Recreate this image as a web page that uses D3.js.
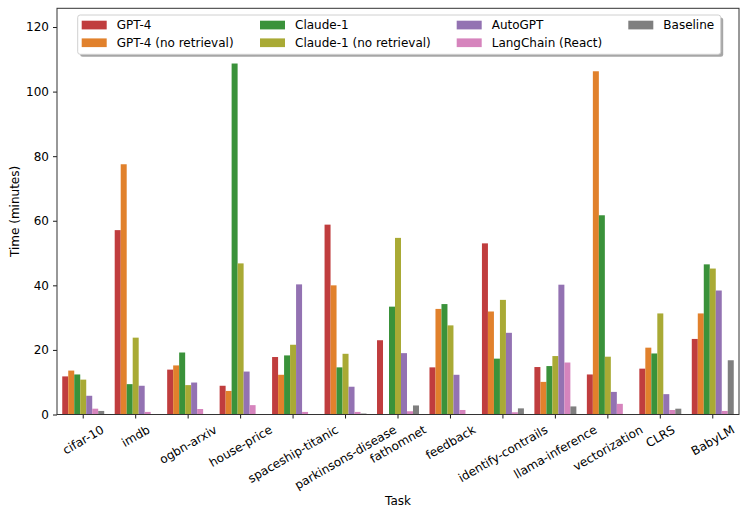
<!DOCTYPE html>
<html>
<head>
<meta charset="utf-8">
<script src="https://cdn.jsdelivr.net/npm/d3@7"></script>
<style>
  body { margin: 0; background: #fff; }
  text { font-family: "DejaVu Sans", sans-serif; fill: #000; }
</style>
</head>
<body>
<div id="chart"></div>
<script>
// tasks on the x axis
var tasks = ["cifar-10", "imdb", "ogbn-arxiv", "house-price", "spaceship-titanic",
  "parkinsons-disease", "fathomnet", "feedback", "identify-contrails",
  "llama-inference", "vectorization", "CLRS", "BabyLM"];

var agents = ["GPT-4", "GPT-4 (no retrieval)", "Claude-1", "Claude-1 (no retrieval)",
  "AutoGPT", "LangChain (React)", "Baseline"];

// time in minutes, one array per agent, same order as tasks
var gpt4        = [11.8, 57.1, 13.9, 8.9, 17.8, 58.8, 23.0, 14.6, 53.0, 14.7, 12.4, 14.2, 23.4];
var gpt4NoRetr  = [13.6, 77.5, 15.2, 7.3, 12.3, 40.0, 0, 32.7, 31.9, 10.1, 106.3, 20.7, 31.3];
var claude1     = [12.4, 9.4, 19.2, 108.7, 18.3, 14.6, 33.4, 34.2, 17.3, 15.0, 61.7, 18.9, 46.5];
var claudeNoRetr= [10.8, 23.8, 9.1, 46.8, 21.6, 18.8, 54.7, 27.6, 35.5, 18.1, 17.9, 31.3, 45.2];
var autoGPT     = [5.8, 8.9, 9.9, 13.3, 40.3, 8.6, 19.0, 12.3, 25.3, 40.2, 7.0, 6.3, 38.4];
var langChain   = [1.8, 0.8, 1.7, 2.9, 0.8, 0.8, 1.0, 1.4, 0.7, 16.1, 3.3, 1.4, 1.1];
var baseline    = [1.1, 0, 0, 0, 0, 0.3, 2.8, 0, 1.9, 2.5, 0, 1.8, 16.8];

var seriesValues = [gpt4, gpt4NoRetr, claude1, claudeNoRetr, autoGPT, langChain, baseline];
var colors = ["#c03d3e", "#e1812c", "#3a923a", "#a9aa35", "#9372b2", "#d684bd", "#7f7f7f"];

var yTicks = [0, 20, 40, 60, 80, 100, 120];

var width = 748, height = 518;
var plotLeft = 57, plotRight = 739, plotTop = 8.3, plotBottom = 414.5;
var fs = 12;

var svg = d3.select("#chart").append("svg")
  .attr("width", width)
  .attr("height", height);

var x = d3.scaleBand()
  .domain(tasks)
  .range([plotLeft, plotRight])
  .paddingInner(0.2)
  .paddingOuter(0.1);

var xs = d3.scaleBand()
  .domain(agents)
  .range([0, x.bandwidth()]);

var y = d3.scaleLinear()
  .domain([0, 125.8])
  .range([plotBottom, plotTop]);

var color = d3.scaleOrdinal().domain(agents).range(colors);

// flatten into rows for drawing
var rows = [];
agents.forEach(function(a, j) {
  tasks.forEach(function(t, i) {
    rows.push({agent: a, task: t, value: seriesValues[j][i]});
  });
});

svg.append("g").selectAll("rect.bar")
  .data(rows)
  .enter()
  .append("rect")
  .attr("class", "bar")
  .attr("x", function(d) { return x(d.task) + xs(d.agent); })
  .attr("width", xs.bandwidth())
  .attr("y", function(d) { return y(d.value); })
  .attr("height", function(d) { return y(0) - y(d.value); })
  .attr("fill", function(d) { return color(d.agent); });

// y axis
var yAxis = svg.append("g")
  .attr("transform", "translate(" + plotLeft + ",0)")
  .call(d3.axisLeft(y).tickValues(yTicks).tickSize(4).tickPadding(4));
yAxis.select(".domain").remove();
yAxis.selectAll("text").style("font-size", fs + "px").style("font-family", "DejaVu Sans");
yAxis.selectAll("line").attr("stroke", "#000").attr("stroke-width", 0.9);

// x axis: ticks only, labels rotated by hand
var xAxis = svg.append("g")
  .attr("transform", "translate(0," + plotBottom + ")")
  .call(d3.axisBottom(x).tickSize(4).tickFormat(""));
xAxis.select(".domain").remove();
xAxis.selectAll("line").attr("stroke", "#000").attr("stroke-width", 0.9);

var labelTop = plotBottom + 8;
svg.append("g").selectAll("text.xlab")
  .data(tasks)
  .enter()
  .append("text")
  .attr("class", "xlab")
  .style("font-size", fs + "px")
  .attr("text-anchor", "middle")
  .attr("dy", "0.346em")
  .text(function(d) { return d; })
  .each(function(d) {
    var w = this.getComputedTextLength();
    var cx = x(d) + x.bandwidth() / 2;
    var cy = labelTop + w / 4 + 1.164 * fs * 0.866 / 2;
    d3.select(this).attr("transform", "translate(" + cx + "," + cy + ") rotate(-30)");
  });

// frame
svg.append("rect")
  .attr("x", plotLeft).attr("y", plotTop)
  .attr("width", plotRight - plotLeft).attr("height", plotBottom - plotTop)
  .attr("fill", "none")
  .attr("stroke", "#333")
  .attr("stroke-width", 1);

// axis titles
svg.append("text")
  .attr("x", (plotLeft + plotRight) / 2)
  .attr("y", 505)
  .attr("text-anchor", "middle")
  .style("font-size", fs + "px")
  .text("Task");

svg.append("text")
  .attr("transform", "translate(19," + (plotTop + plotBottom) / 2 + ") rotate(-90)")
  .attr("text-anchor", "middle")
  .style("font-size", fs + "px")
  .text("Time (minutes)");

// legend, 4 columns with a shadow
var legend = svg.append("g");
var lx = 77.7, ly = 15, lw = 643, lh = 39.3;
legend.append("rect")
  .attr("x", lx + 2.5).attr("y", ly + 2.5)
  .attr("width", lw).attr("height", lh)
  .attr("rx", 2.5)
  .attr("fill", "#000").attr("opacity", 0.35);
legend.append("rect")
  .attr("x", lx).attr("y", ly)
  .attr("width", lw).attr("height", lh)
  .attr("rx", 2.5)
  .attr("fill", "#fff")
  .attr("stroke", "#d0d0d0");

var colX = [81.7, 260, 456.7, 628.3];
var rowY = [25, 42.7];
agents.forEach(function(a, i) {
  var c = Math.floor(i / 2), r = i % 2;
  var g = legend.append("g")
    .attr("transform", "translate(" + colX[c] + "," + rowY[r] + ")");
  g.append("rect")
    .attr("x", 0).attr("y", -4.3)
    .attr("width", 25).attr("height", 8.7)
    .attr("fill", color(a));
  g.append("text")
    .attr("x", 35)
    .attr("dy", "0.346em")
    .style("font-size", fs + "px")
    .text(a);
});
</script>
</body>
</html>
